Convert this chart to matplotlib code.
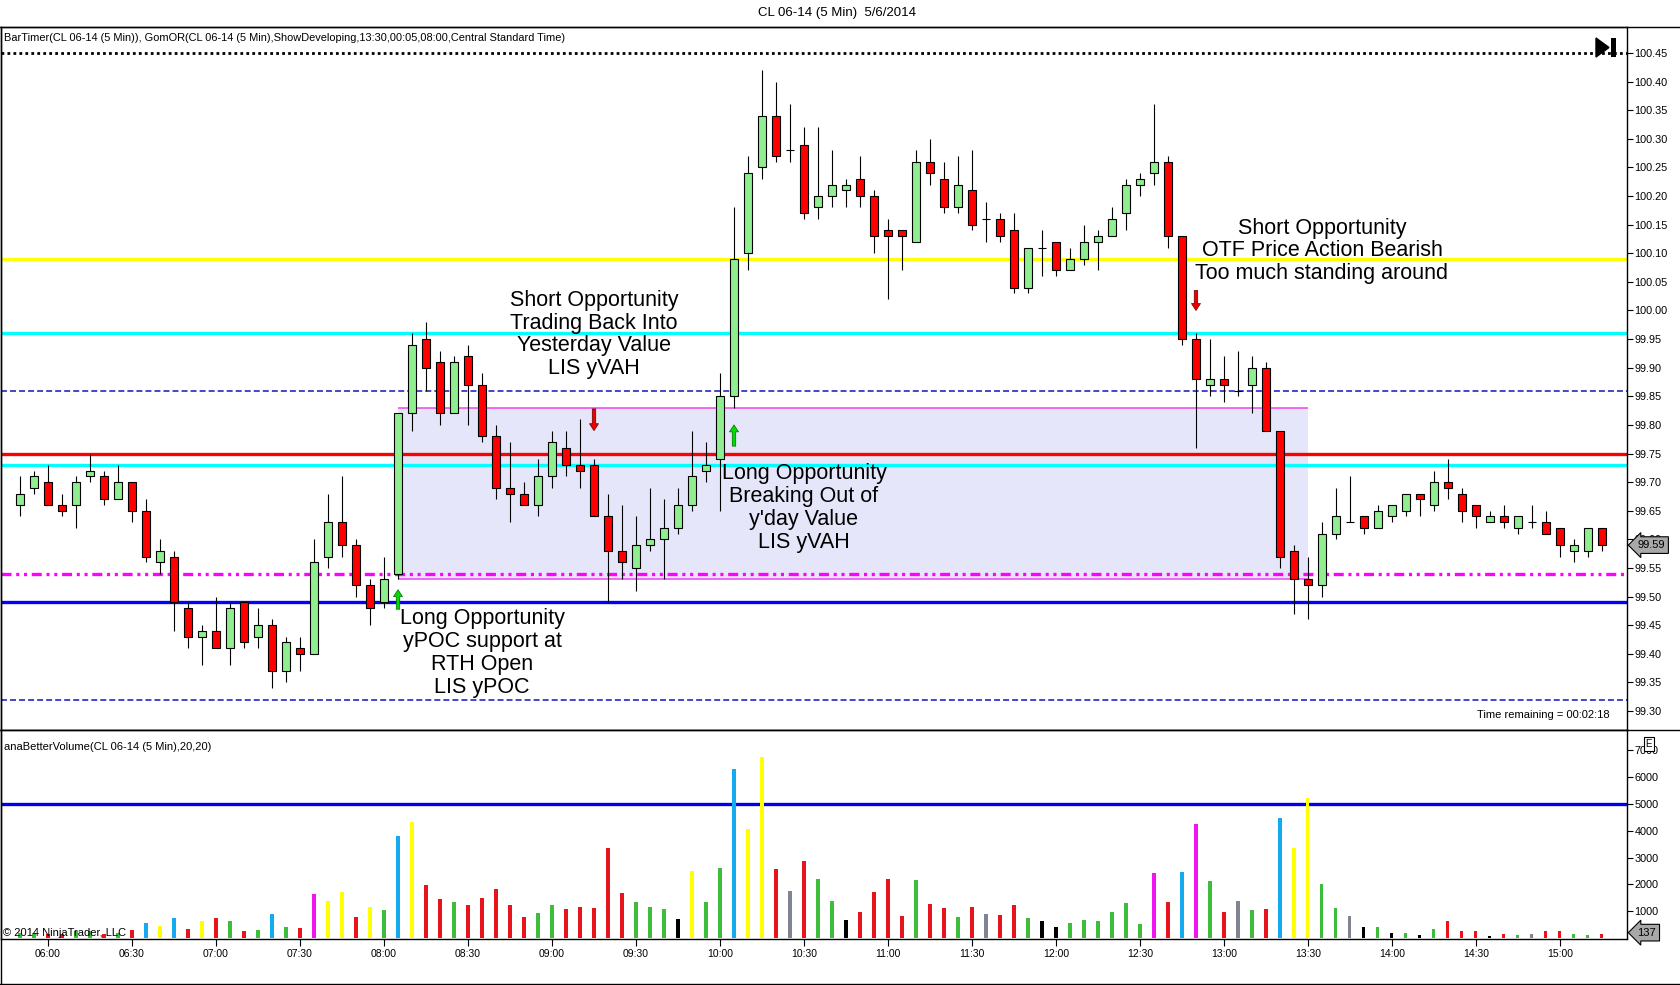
import numpy as np
import pandas as pd
import matplotlib
matplotlib.use("Agg")
import matplotlib.pyplot as plt
from matplotlib.patches import Rectangle, Polygon
from matplotlib.lines import Line2D
from matplotlib.transforms import blended_transform_factory

plt.rcParams['font.family'] = ['Liberation Sans', 'DejaVu Sans']
plt.rcParams['lines.scale_dashes'] = False

# CL 06-14, 5 min bars, 05:50 .. 15:15
bar_times = pd.date_range("2014-05-06 05:50", "2014-05-06 15:15", freq="5min")

opens = [99.66, 99.69, 99.70, 99.66, 99.66, 99.71, 99.71, 99.67, 99.70, 99.65,
         99.56, 99.57, 99.48, 99.43, 99.44, 99.41, 99.49, 99.43, 99.45, 99.37,
         99.41, 99.40, 99.57, 99.63, 99.59, 99.52, 99.49, 99.54, 99.82, 99.95,
         99.91, 99.82, 99.92, 99.87, 99.78, 99.69, 99.68, 99.66, 99.71, 99.76,
         99.73, 99.73, 99.64, 99.58, 99.55, 99.59, 99.60, 99.62, 99.66, 99.72,
         99.74, 99.85, 100.10, 100.25, 100.34, 100.28, 100.29, 100.18, 100.20, 100.21,
         100.23, 100.20, 100.14, 100.14, 100.12, 100.26, 100.23, 100.18, 100.21, 100.16,
         100.16, 100.14, 100.04, 100.11, 100.12, 100.07, 100.09, 100.12, 100.13, 100.17,
         100.22, 100.24, 100.26, 100.13, 99.95, 99.87, 99.88, 99.86, 99.87, 99.90,
         99.79, 99.58, 99.53, 99.52, 99.61, 99.63, 99.64, 99.62, 99.64, 99.65,
         99.68, 99.66, 99.70, 99.68, 99.66, 99.63, 99.64, 99.62, 99.63, 99.63,
         99.62, 99.58, 99.58, 99.62]
highs = [99.71, 99.72, 99.73, 99.68, 99.71, 99.75, 99.72, 99.73, 99.70, 99.67,
         99.60, 99.58, 99.49, 99.45, 99.50, 99.49, 99.49, 99.48, 99.46, 99.43,
         99.43, 99.60, 99.68, 99.71, 99.60, 99.53, 99.57, 99.82, 99.96, 99.98,
         99.93, 99.92, 99.94, 99.89, 99.80, 99.77, 99.70, 99.74, 99.79, 99.79,
         99.81, 99.74, 99.68, 99.66, 99.64, 99.69, 99.67, 99.69, 99.79, 99.77,
         99.89, 100.18, 100.27, 100.42, 100.40, 100.36, 100.32, 100.32, 100.28, 100.23,
         100.27, 100.21, 100.16, 100.14, 100.28, 100.30, 100.26, 100.27, 100.28, 100.19,
         100.17, 100.17, 100.11, 100.14, 100.12, 100.11, 100.15, 100.14, 100.18, 100.23,
         100.24, 100.36, 100.27, 100.13, 99.96, 99.95, 99.92, 99.93, 99.92, 99.91,
         99.79, 99.59, 99.57, 99.63, 99.69, 99.71, 99.64, 99.66, 99.66, 99.68,
         99.68, 99.72, 99.74, 99.69, 99.66, 99.65, 99.66, 99.64, 99.66, 99.65,
         99.62, 99.60, 99.62, 99.62]
lows = [99.64, 99.68, 99.66, 99.64, 99.62, 99.70, 99.66, 99.67, 99.63, 99.56,
        99.54, 99.44, 99.41, 99.38, 99.41, 99.38, 99.41, 99.41, 99.34, 99.35,
        99.37, 99.40, 99.55, 99.57, 99.50, 99.45, 99.48, 99.53, 99.79, 99.86,
        99.80, 99.82, 99.80, 99.77, 99.67, 99.63, 99.66, 99.64, 99.69, 99.71,
        99.69, 99.64, 99.49, 99.53, 99.51, 99.58, 99.53, 99.61, 99.65, 99.70,
        99.65, 99.83, 100.07, 100.23, 100.26, 100.26, 100.16, 100.16, 100.18, 100.18,
        100.18, 100.10, 100.02, 100.07, 100.12, 100.22, 100.17, 100.17, 100.14, 100.12,
        100.12, 100.03, 100.03, 100.06, 100.06, 100.07, 100.08, 100.07, 100.13, 100.14,
        100.20, 100.22, 100.11, 99.94, 99.76, 99.85, 99.84, 99.85, 99.82, 99.79,
        99.55, 99.47, 99.46, 99.50, 99.60, 99.63, 99.61, 99.62, 99.63, 99.64,
        99.64, 99.65, 99.67, 99.63, 99.62, 99.63, 99.62, 99.61, 99.62, 99.61,
        99.57, 99.56, 99.57, 99.58]
closes = [99.68, 99.71, 99.66, 99.65, 99.70, 99.72, 99.67, 99.70, 99.65, 99.57,
          99.58, 99.49, 99.43, 99.44, 99.41, 99.48, 99.42, 99.45, 99.37, 99.42,
          99.40, 99.56, 99.63, 99.59, 99.52, 99.48, 99.53, 99.82, 99.94, 99.90,
          99.82, 99.91, 99.87, 99.78, 99.69, 99.68, 99.66, 99.71, 99.77, 99.73,
          99.72, 99.64, 99.58, 99.56, 99.59, 99.60, 99.62, 99.66, 99.71, 99.73,
          99.85, 100.09, 100.24, 100.34, 100.27, 100.28, 100.17, 100.20, 100.22, 100.22,
          100.20, 100.13, 100.13, 100.13, 100.26, 100.24, 100.18, 100.22, 100.15, 100.16,
          100.13, 100.04, 100.11, 100.11, 100.07, 100.09, 100.12, 100.13, 100.16, 100.22,
          100.23, 100.26, 100.13, 99.95, 99.88, 99.88, 99.87, 99.86, 99.90, 99.79,
          99.57, 99.53, 99.52, 99.61, 99.64, 99.63, 99.62, 99.65, 99.66, 99.68,
          99.67, 99.70, 99.69, 99.65, 99.64, 99.64, 99.63, 99.64, 99.63, 99.61,
          99.59, 99.59, 99.62, 99.59]

volumes = [200, 200, 150, 150, 250, 250, 150, 200, 300, 560,
           430, 740, 330, 630, 740, 630, 260, 300, 890, 410,
           370, 1630, 1370, 1720, 780, 1150, 1040, 3820, 4340, 1970,
           1450, 1340, 1220, 1490, 1820, 1220, 780, 930, 1220, 1080,
           1150, 1110, 3340, 1670, 1340, 1150, 1080, 705, 2510, 1340,
           2600, 6310, 4060, 6760, 2560, 1750, 2860, 2190, 1370, 670,
           970, 1710, 2190, 820, 2150, 1260, 1110, 780, 1150, 890,
           850, 1220, 740, 630, 410, 560, 680, 645, 955, 1290,
           535, 2430, 1350, 2470, 4255, 2130, 955, 1390, 1055, 1090,
           4480, 3340, 5235, 2020, 1130, 830, 420, 420, 200, 200,
           110, 350, 650, 240, 240, 75, 150, 110, 150, 240,
           275, 150, 110, 137]
# r down, g up, c climax, y churn, m low-vol churn, k low volume, a gray
vol_colors = list("ggrrggrgrc" "ycryrgrgcg" "rmyyrygcyr"
                  "rgrrrrrggr" "rrrrgggkyg" "gcyyrarggk"
                  "rrrrgrrgra" "rrgkkggggg" "gmrcmgragr"
                  "cyyggakgkg" "kgrrrkrgar" "rggr")

# key levels of the day
level_prices = [100.45, 100.09, 99.96, 99.86, 99.75, 99.73, 99.54, 99.49, 99.32]
or_high, or_low = 99.83, 99.53
or_start, or_end = "08:05", "13:30"
vol_line = 5000

last_price = 99.59
last_volume = 137

ann_texts = ["Short Opportunity\nTrading Back Into\nYesterday Value\nLIS yVAH",
             "Long Opportunity\nyPOC support at\nRTH Open\nLIS yPOC",
             "Long Opportunity\nBreaking Out of\ny'day Value\nLIS yVAH",
             "Short Opportunity\nOTF Price Action Bearish\nToo much standing around"]
ann_x = [41.0, 33.0, 56.0, 93.0]
ann_y = [99.958, 99.402, 99.655, 100.104]

# signal arrows: time, tail price, tip price
arrow_times = ["09:15", "08:05", "10:05", "12:50"]
arrow_tail = [99.828, 99.478, 99.763, 100.035]
arrow_tip = [99.790, 99.512, 99.800, 100.000]

W, H = 1680, 985
fig = plt.figure(figsize=(W / 100, H / 100), dpi=100)


def fx(px):
    return px / W


def fy(py):
    return 1 - py / H


ax_p = fig.add_axes([fx(1), fy(730), fx(1627) - fx(1), fy(27) - fy(730)])
ax_v = fig.add_axes([fx(1), fy(939), fx(1627) - fx(1), fy(730) - fy(939)], sharex=ax_p)

pos = np.arange(len(bar_times))
hhmm = list(bar_times.strftime("%H:%M"))
o = np.array(opens)
h = np.array(highs)
l = np.array(lows)
c = np.array(closes)

# opening range box
x0, x1 = hhmm.index(or_start), hhmm.index(or_end)
ax_p.add_patch(Rectangle((x0, or_low), x1 - x0, or_high - or_low, fc='#E6E6FA', ec='none', zorder=1))
ax_p.hlines([or_high, or_low], x0, x1, color='#EE44EE', lw=1.1, zorder=1.5)

level_colors = ['black', '#FFFF00', '#00FFFF', '#2626C8', '#FF0000', '#00FFFF', '#FF00FF', '#0000FF', '#2626C8']
level_widths = [2.0, 2.4, 2.4, 1.2, 2.4, 2.4, 2.4, 2.4, 1.2]
level_styles = [(0, (2.0, 2.3)), '-', '-', (0, (4.3, 2.2)), '-', '-',
                (0, (7.2, 3.4, 2.2, 3.4, 2.2, 3.4)), '-', (0, (4.3, 2.2))]
for p, col, lw, ls in zip(level_prices, level_colors, level_widths, level_styles):
    ax_p.axhline(p, color=col, lw=lw, ls=ls, zorder=2)

# candles
bw = 0.57
up = c > o
dn = c < o
dj = c == o
ax_p.vlines(pos, l, h, color='black', lw=0.8, zorder=3)
ax_p.bar(pos[up], (c - o)[up], bottom=o[up], width=bw, color='#90EE90', edgecolor='black', lw=0.8, zorder=4)
ax_p.bar(pos[dn], (o - c)[dn], bottom=c[dn], width=bw, color='#FF0000', edgecolor='black', lw=0.8, zorder=4)
ax_p.hlines(o[dj], pos[dj] - bw / 2, pos[dj] + bw / 2, color='black', lw=0.8, zorder=4)

# arrows
for t, ya, yb in zip(arrow_times, arrow_tail, arrow_tip):
    xa = hhmm.index(t)
    if yb > ya:
        fcol, ecol = '#00DD00', '#006600'
    else:
        fcol, ecol = '#EE0000', '#660000'
    ax_p.annotate('', xy=(xa, yb), xytext=(xa, ya),
                  arrowprops=dict(arrowstyle='simple,head_width=0.65,head_length=0.5,tail_width=0.25',
                                  fc=fcol, ec=ecol, lw=0.5, shrinkA=0, shrinkB=0), zorder=5)

for txt, xa, ya in zip(ann_texts, ann_x, ann_y):
    ax_p.text(xa, ya, txt, ha='center', va='center', fontsize=15.5, linespacing=1.12, zorder=6)

# volume
vmap = {'r': '#E8141C', 'g': '#3CBE3C', 'c': '#14AAEE', 'y': '#FFFF00',
        'm': '#F014F0', 'k': '#000000', 'a': '#7F8590'}
ax_v.axhline(vol_line, color='#0000EE', lw=2.4, zorder=2)
ax_v.bar(pos, volumes, width=0.22, color=[vmap[k] for k in vol_colors], zorder=3)

# axes
ax_p.set_xlim(-1.36, 114.79)
ax_p.set_ylim(99.2669, 100.4954)
ax_v.set_ylim(-40, 7760)

for ax in (ax_p, ax_v):
    for s in ax.spines.values():
        s.set_color('black')
        s.set_linewidth(1.0)
    ax.yaxis.tick_right()
    ax.tick_params(axis='y', direction='out', length=4, width=0.8, labelsize=7.8, pad=1.5)

ax_p.set_yticks(np.round(np.arange(99.30, 100.451, 0.05), 2))
ax_p.yaxis.set_major_formatter(plt.FormatStrFormatter('%.2f'))
ax_p.tick_params(axis='x', bottom=False, labelbottom=False)

ax_v.set_yticks([1000, 2000, 3000, 4000, 5000, 6000, 7000])
tick_pos = [i for i, t in enumerate(bar_times) if t.minute in (0, 30)]
ax_v.set_xticks(tick_pos)
ax_v.set_xticklabels([hhmm[i] for i in tick_pos])
ax_v.tick_params(axis='x', direction='out', length=5, width=0.8, labelsize=7.5, pad=2)

# last value markers
tr_p = blended_transform_factory(ax_p.transAxes, ax_p.transData)
ax_p.text(1.0065, last_price, f'{last_price:.2f}', transform=tr_p, ha='left', va='center', fontsize=8,
          bbox=dict(boxstyle='larrow,pad=0.3', fc='#A8A8A8', ec='black', lw=0.8), clip_on=False, zorder=10)
tr_v = blended_transform_factory(ax_v.transAxes, ax_v.transData)
ax_v.text(1.0065, last_volume + 60, f'{last_volume}', transform=tr_v, ha='left', va='center', fontsize=8,
          bbox=dict(boxstyle='larrow,pad=0.3', fc='#A8A8A8', ec='black', lw=0.8), clip_on=False, zorder=10)

# frame and chart furniture
for yy in (27, 730, 984):
    fig.add_artist(Line2D([0, 1], [fy(yy), fy(yy)], color='black', lw=1.0, transform=fig.transFigure))
fig.add_artist(Line2D([fx(0.5), fx(0.5)], [fy(27), fy(984)], color='black', lw=1.0, transform=fig.transFigure))

fig.add_artist(Polygon([[fx(1596), fy(38)], [fx(1596), fy(57)], [fx(1609), fy(47.5)]], closed=True,
                       fc='black', ec='black', transform=fig.transFigure))
fig.add_artist(Rectangle((fx(1611), fy(57)), fx(5), fy(38) - fy(57), fc='black', ec='none',
                         transform=fig.transFigure))

fig.text(fx(837), fy(13), 'CL 06-14 (5 Min)  5/6/2014', ha='center', va='center', fontsize=9.5)
fig.text(fx(4), fy(38), 'BarTimer(CL 06-14 (5 Min)), GomOR(CL 06-14 (5 Min),ShowDeveloping,13:30,00:05,08:00,Central Standard Time)',
         ha='left', va='center', fontsize=7.9)
fig.text(fx(4), fy(747), 'anaBetterVolume(CL 06-14 (5 Min),20,20)', ha='left', va='center', fontsize=8.0)
fig.text(fx(3), fy(933), '\u00a9 2014 NinjaTrader, LLC', ha='left', va='center', fontsize=8.0)
fig.text(fx(1610), fy(715), 'Time remaining = 00:02:18', ha='right', va='center', fontsize=8.0)
fig.text(fx(1649), fy(744), 'E', ha='center', va='center', fontsize=7,
         bbox=dict(boxstyle='square,pad=0.2', fc='white', ec='black', lw=0.8))

fig.savefig('out.png', dpi=100, facecolor='white')
